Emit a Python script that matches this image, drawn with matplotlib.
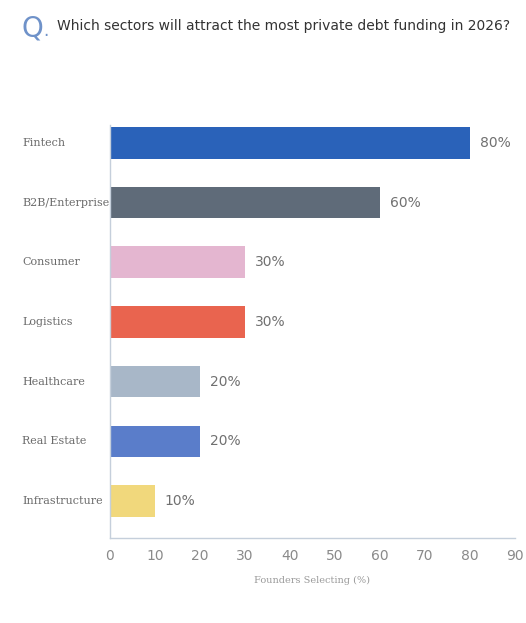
import numpy as np
from matplotlib import pyplot as plt

sectors = ['Fintech', 'B2B/Enterprise', 'Consumer', 'Logistics',
           'Healthcare', 'Real Estate', 'Infrastructure']
shares = [80, 60, 30, 30, 20, 20, 10]
colors = ['#2a62b9', '#5f6b79', '#e4b6d0', '#e9644f',
          '#a8b7c8', '#5a7dca', '#f1d87c']
xticks = [0, 10, 20, 30, 40, 50, 60, 70, 80, 90]

fig = plt.figure(figsize=(5.26, 6.23), dpi=100)
ax = fig.add_axes([0.209, 0.1364, 0.770, 0.663])

ypos = np.arange(len(sectors))
ax.barh(ypos, shares, height=0.53, color=colors, zorder=2)

ax.set_ylim(6.62, -0.3)
ax.set_xlim(0, 90)
ax.set_xticks(xticks)
ax.set_yticks(ypos)
ax.set_yticklabels([])

for s in ['top', 'right']:
    ax.spines[s].set_visible(False)
for s in ['left', 'bottom']:
    ax.spines[s].set_color('#c5cfdb')
    ax.spines[s].set_linewidth(1.0)
ax.tick_params(axis='both', length=0)
ax.tick_params(axis='x', labelsize=10, labelcolor='#8a8a8a', pad=8)

# sector names, left-aligned
for y, name in zip(ypos, sectors):
    ax.text(-0.217, y, name, transform=ax.get_yaxis_transform(),
            ha='left', va='center', fontsize=8, family='DejaVu Serif',
            color='#6a6a6a')

# value labels
for y, v in zip(ypos, shares):
    ax.text(v + 2.2, y, f'{v}%', ha='left', va='center',
            fontsize=10, color='#707070')

ax.set_xlabel('Founders Selecting (%)', fontsize=7, family='DejaVu Serif',
              color='#9a9a9a', labelpad=9)

fig.text(0.040, 0.955, 'Q', fontsize=20, color='#6f92c9', va='center')
fig.text(0.083, 0.950, '.', fontsize=12, color='#6f92c9', va='center')
fig.text(0.108, 0.959, 'Which sectors will attract the most private debt funding in 2026?',
         fontsize=10.0, color='#333333', va='center')

plt.savefig('out.png', dpi=100)
